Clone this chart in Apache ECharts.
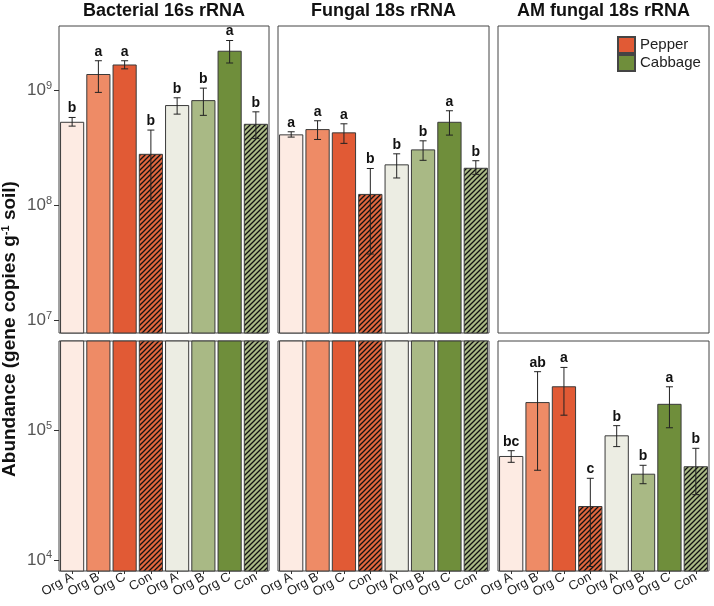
<!DOCTYPE html>
<html>
<head>
<meta charset="utf-8">
<script src="https://cdn.jsdelivr.net/npm/echarts@6/dist/echarts.min.js"></script>
<style>
html, body { margin: 0; padding: 0; background: #fff; }
#chart { width: 714px; height: 606px; }
</style>
</head>
<body>
<div id="chart"></div>
<script>
// treatments: 4 pepper then 4 cabbage
const groups = ['Org A', 'Org B', 'Org C', 'Con', 'Org A', 'Org B', 'Org C', 'Con'];

const bactMean = [5.30e8, 1.38e9, 1.67e9, 2.79e8, 7.41e8, 8.18e8, 2.20e9, 5.09e8];
const bactLow = [4.86e8, 9.55e8, 1.53e9, 1.09e8, 6.18e8, 6.03e8, 1.72e9, 3.80e8];
const bactHigh = [5.78e8, 1.80e9, 1.80e9, 4.49e8, 8.57e8, 1.04e9, 2.70e9, 6.47e8];
const bactLetters = ['b', 'a', 'a', 'b', 'b', 'b', 'a', 'b'];

const fungMean = [4.12e8, 4.58e8, 4.29e8, 1.25e8, 2.26e8, 3.05e8, 5.30e8, 2.11e8];
const fungLow = [3.90e8, 3.72e8, 3.44e8, 3.75e7, 1.72e8, 2.45e8, 4.06e8, 1.85e8];
const fungHigh = [4.34e8, 5.41e8, 5.09e8, 2.08e8, 2.79e8, 3.62e8, 6.61e8, 2.43e8];
const fungLetters = ['a', 'a', 'a', 'b', 'b', 'b', 'a', 'b'];

const amMean = [6.31e4, 1.64e5, 2.17e5, 2.60e4, 9.10e4, 4.61e4, 1.59e5, 5.26e4];
const amLow = [5.64e4, 4.90e4, 1.30e5, 8.9e3, 7.45e4, 3.86e4, 1.04e5, 3.18e4];
const amHigh = [6.93e4, 2.81e5, 3.03e5, 4.25e4, 1.08e5, 5.35e4, 2.15e5, 7.23e4];
const amLetters = ['bc', 'ab', 'a', 'c', 'b', 'b', 'a', 'b'];

const topTicks = [1e7, 1e8, 1e9];
const bottomTicks = [1e4, 1e5];
const panelTitles = ['Bacterial 16s rRNA', 'Fungal 18s rRNA', 'AM fungal 18s rRNA'];

const FONT = '"Liberation Sans", Arial, sans-serif';
const barColors = ['#fdebe3', '#ee8b66', '#e15a35', '#e0673f', '#ecede3', '#a9b985', '#6f8e3b', '#a9b985'];
const hatched = [false, false, false, true, false, false, false, true];

function hatch(base) {
    const c = document.createElement('canvas');
    c.width = 5; c.height = 5;
    const g = c.getContext('2d');
    g.fillStyle = base;
    g.fillRect(0, 0, 5, 5);
    g.strokeStyle = '#111';
    g.lineWidth = 1.3;
    g.beginPath();
    g.moveTo(0, 5); g.lineTo(5, 0);
    g.moveTo(-1, 1); g.lineTo(1, -1);
    g.moveTo(4, 6); g.lineTo(6, 4);
    g.stroke();
    return c;
}

function barData(vals) {
    return vals.map((v, i) => ({
        value: v,
        itemStyle: {
            color: hatched[i] ? { image: hatch(barColors[i]), repeat: 'repeat' } : barColors[i]
        }
    }));
}

function errData(low, high) {
    return low.map((l, i) => [i, l, high[i]]);
}

function errRenderer(letters) {
    return function (params, api) {
        const i = api.value(0);
        const lo = api.coord([i, api.value(1)]);
        const hi = api.coord([i, api.value(2)]);
        const cap = 3.5;
        const st = { stroke: '#222', lineWidth: 1 };
        return {
            type: 'group',
            children: [
                { type: 'line', shape: { x1: lo[0], y1: lo[1], x2: hi[0], y2: hi[1] }, style: st },
                { type: 'line', shape: { x1: lo[0] - cap, y1: lo[1], x2: lo[0] + cap, y2: lo[1] }, style: st },
                { type: 'line', shape: { x1: hi[0] - cap, y1: hi[1], x2: hi[0] + cap, y2: hi[1] }, style: st },
                {
                    type: 'text', x: hi[0], y: hi[1] - 2,
                    style: {
                        text: letters[params.dataIndex], align: 'center', verticalAlign: 'bottom',
                        font: 'bold 14px ' + FONT, fill: '#111'
                    }
                }
            ]
        };
    };
}

const colLeft = [59, 278, 498];
const colWidth = [210, 211, 211];
const grids = [];
for (let r = 0; r < 2; r++) {
    for (let c = 0; c < 3; c++) {
        grids.push({
            left: colLeft[c], width: colWidth[c],
            top: r === 0 ? 26 : 341, height: r === 0 ? 307 : 230,
            show: true, borderColor: '#444', borderWidth: 1, backgroundColor: '#fff'
        });
    }
}

const xAxes = grids.map((g, i) => ({
    type: 'category', gridIndex: i, data: groups.map((_, k) => k),
    axisLine: { show: false },
    axisTick: { show: i >= 3, alignWithLabel: true, length: 3, lineStyle: { color: '#333' } },
    axisLabel: {
        show: i >= 3, interval: 0, rotate: 30, margin: 5,
        fontSize: 13, color: '#1a1a1a', fontFamily: FONT,
        formatter: v => groups[v]
    }
}));

const yAxes = grids.map((g, i) => {
    const top = i < 3;
    const first = i === 0 || i === 3;
    return {
        type: 'log', logBase: 10, gridIndex: i,
        min: top ? 7.71e6 : 8.22e3,
        max: top ? 3.61e9 : 4.84e5,
        splitLine: { show: false },
        axisLine: { show: false },
        axisTick: {
            show: first, length: 5, lineStyle: { color: '#333', width: 1 },
            customValues: top ? topTicks : bottomTicks
        },
        axisLabel: {
            show: first, margin: 7, fontFamily: FONT,
            customValues: top ? topTicks : bottomTicks,
            formatter: v => '{b|10}{s|' + Math.round(Math.log10(v)) + '}',
            rich: {
                b: { fontSize: 17, color: '#555', fontFamily: FONT },
                s: { fontSize: 11, color: '#555', fontFamily: FONT, verticalAlign: 'top', padding: [0, 0, 9, 0] }
            }
        }
    };
});

function bars(axis, vals) {
    return {
        type: 'bar', xAxisIndex: axis, yAxisIndex: axis, data: barData(vals),
        barCategoryGap: '8%', clip: true,
        itemStyle: { borderColor: '#3a3a3a', borderWidth: 1 }
    };
}

function errs(axis, low, high, letters) {
    return {
        type: 'custom', xAxisIndex: axis, yAxisIndex: axis,
        data: errData(low, high), renderItem: errRenderer(letters), z: 5
    };
}

const option = {
    animation: false,
    title: panelTitles.map((t, c) => ({
        text: t, left: colLeft[c] + colWidth[c] / 2, top: 2, textAlign: 'center', padding: 0,
        textStyle: { fontSize: 18, fontWeight: 'bold', color: '#111', fontFamily: FONT }
    })),
    legend: {
        data: ['Pepper', 'Cabbage'], orient: 'vertical', left: 617, top: 36, padding: 0,
        itemWidth: 17, itemHeight: 16, itemGap: 0, icon: 'rect', selectedMode: false,
        textStyle: { fontSize: 15, color: '#222', fontFamily: FONT }
    },
    grid: grids,
    xAxis: xAxes,
    yAxis: yAxes,
    graphic: [{
        type: 'text', x: 10, y: 329, rotation: Math.PI / 2,
        style: {
            text: '{a|Abundance (gene copies g}{s|-1}{a| soil)}',
            align: 'center', verticalAlign: 'middle',
            rich: {
                a: { font: 'bold 19px ' + FONT, fill: '#111' },
                s: { font: 'bold 11px ' + FONT, fill: '#111', verticalAlign: 'top', padding: [0, 0, 8, 0] }
            }
        }
    }],
    series: [
        bars(0, bactMean), bars(3, bactMean), errs(0, bactLow, bactHigh, bactLetters),
        bars(1, fungMean), bars(4, fungMean), errs(1, fungLow, fungHigh, fungLetters),
        bars(5, amMean), errs(5, amLow, amHigh, amLetters),
        { name: 'Pepper', type: 'bar', xAxisIndex: 2, yAxisIndex: 2, data: [],
          itemStyle: { color: '#e15a35', borderColor: '#444', borderWidth: 1 } },
        { name: 'Cabbage', type: 'bar', xAxisIndex: 2, yAxisIndex: 2, data: [],
          itemStyle: { color: '#6f8e3b', borderColor: '#444', borderWidth: 1 } }
    ]
};

const chart = echarts.init(document.getElementById('chart'), null, { renderer: 'canvas' });
chart.setOption(option);
</script>
</body>
</html>
